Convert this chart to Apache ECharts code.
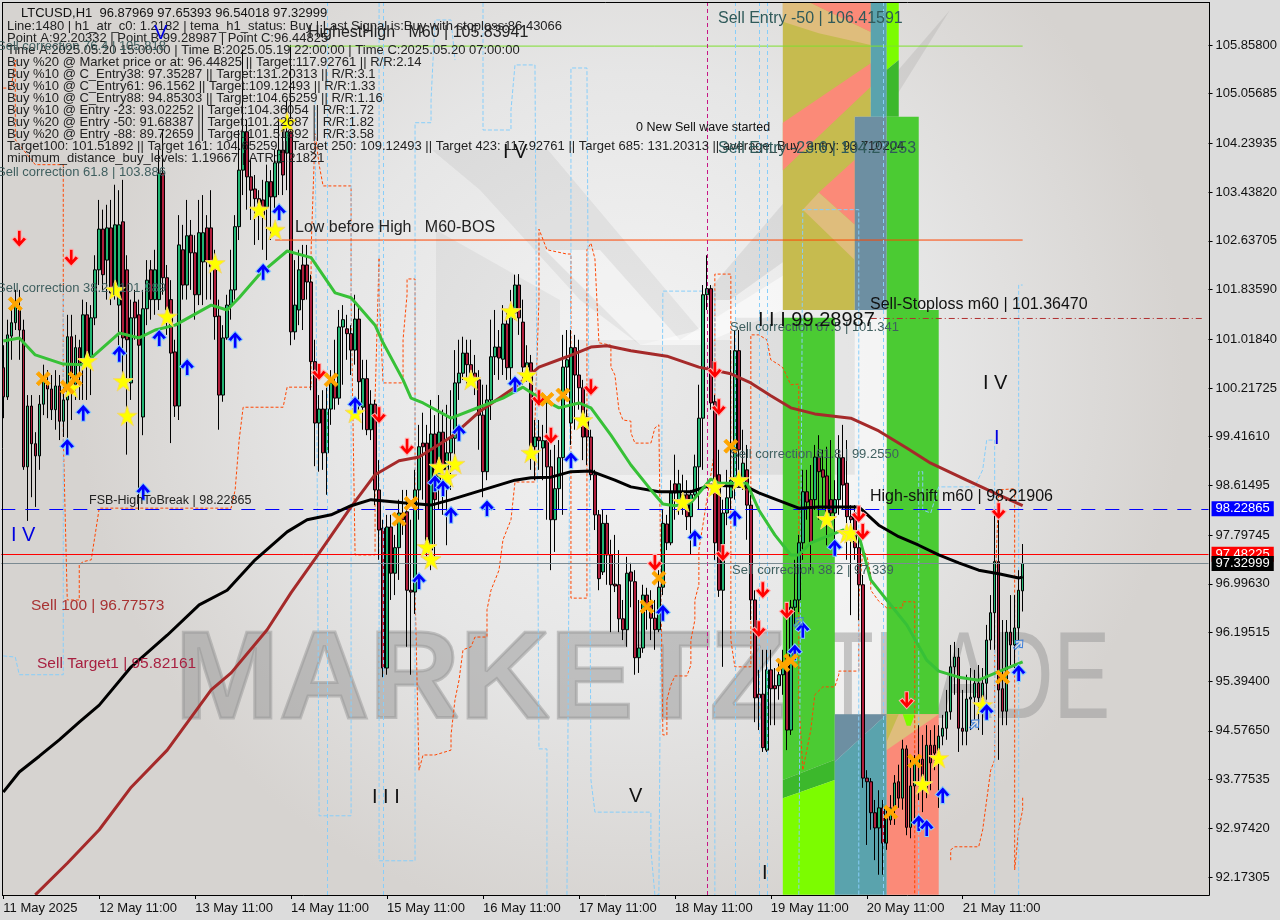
<!DOCTYPE html>
<html><head><meta charset="utf-8">
<style>html,body{margin:0;padding:0;background:#dcdcdc}#c{width:1280px;height:920px}</style>
<script src="https://cdn.jsdelivr.net/npm/echarts@6/dist/echarts.min.js"></script>
</head><body><div id="c"></div>
<script>
// [open, close, low, high] for each H1 bar
const candles = [
[100.55,100.07,99.72,100.92],[100.07,101.09,100.02,101.34],[101.07,101.29,100.68,101.58],[101.29,101.63,101.17,101.83],[101.50,101.17,100.68,101.83],[101.17,98.92,98.87,101.34],[98.92,99.92,98.03,100.10],[99.92,99.30,98.42,100.10],[99.30,99.10,98.26,99.49],[99.10,99.95,98.87,100.10],
[99.95,100.38,99.77,100.60],[100.30,100.20,99.72,100.51],[100.20,99.86,99.69,100.43],[99.86,100.25,99.53,100.51],[100.25,99.67,99.36,100.43],[99.67,100.02,99.41,100.27],[100.02,101.06,99.20,101.42],[101.06,100.18,99.69,101.42],[100.27,100.88,100.02,101.09],[100.88,100.60,100.02,101.01],
[100.63,101.42,100.02,101.67],[101.42,100.73,100.02,101.63],[100.73,101.37,100.10,101.58],[101.37,102.16,101.25,102.40],[102.16,102.83,101.91,103.31],[102.83,102.08,101.83,103.15],[102.32,102.85,101.67,103.23],[102.85,101.78,101.58,103.31],[101.91,102.90,101.67,103.56],[101.58,102.90,100.92,103.47],
[102.95,101.04,100.32,103.64],[102.16,101.01,99.12,102.40],[100.30,101.37,100.02,101.67],[101.63,101.37,101.01,101.83],[101.42,100.92,98.21,101.67],[99.74,101.52,99.44,101.83],[101.52,101.99,101.25,102.32],[102.16,101.67,101.34,102.32],[101.67,102.16,101.42,102.49],[101.67,103.75,101.50,104.13],
[103.75,102.03,101.75,104.46],[102.03,101.50,101.09,102.24],[101.67,100.79,99.31,101.99],[100.81,99.92,99.74,101.01],[99.92,102.57,99.69,103.06],[102.49,101.91,101.67,102.90],[101.91,102.72,101.67,103.31],[102.73,102.44,101.83,102.98],[102.44,101.75,101.34,102.73],[101.75,102.77,101.58,103.31],
[102.29,102.77,101.58,103.39],[102.85,102.29,101.67,103.06],[102.85,102.21,101.67,103.47],[102.21,101.39,101.01,102.49],[101.40,100.10,99.53,101.67],[100.10,101.04,99.99,101.25],[101.04,101.58,101.01,101.75],[101.58,101.83,101.34,102.49],[101.83,102.87,101.67,103.06],[102.87,103.80,102.65,104.46],
[103.80,104.43,103.39,105.78],[104.43,103.69,103.15,104.63],[103.69,103.47,102.98,103.97],[103.49,103.33,102.57,103.72],[103.33,103.15,102.65,103.47],[103.31,103.06,102.49,103.64],[103.19,103.61,102.32,103.89],[103.61,103.36,102.65,103.80],[103.36,103.92,103.15,104.13],[103.92,104.13,103.39,104.63],
[104.13,103.72,103.39,104.46],[104.08,104.43,103.47,104.95],[104.43,101.14,100.92,105.86],[101.14,101.58,101.01,102.32],[101.50,102.16,101.25,102.49],[102.24,101.67,101.17,102.57],[102.24,101.96,101.67,102.57],[101.96,100.65,100.18,102.08],[100.65,99.64,98.93,101.01],[99.64,99.87,98.84,100.10],
[99.87,99.15,98.87,100.18],[99.15,99.87,98.46,100.22],[99.87,100.30,99.61,100.51],[100.28,100.05,99.86,101.01],[100.05,101.22,99.94,101.50],[101.22,101.34,100.27,101.58],[101.19,101.11,100.68,101.42],[101.11,100.84,100.43,101.25],[100.84,101.35,100.60,101.75],[101.35,100.32,99.86,101.58],
[99.90,100.37,99.53,100.68],[100.37,99.53,99.44,100.68],[99.53,99.95,99.36,100.18],[99.95,98.54,98.29,100.02],[98.54,97.88,97.39,99.03],[97.91,95.61,95.46,98.05],[95.61,97.93,95.50,98.13],[97.93,97.17,96.73,98.13],[97.17,97.59,96.81,97.80],[97.59,98.16,97.06,98.38],
[98.16,98.05,97.80,98.54],[98.18,96.89,95.96,98.54],[96.89,96.86,95.50,98.05],[96.86,98.54,96.50,98.87],[98.54,99.25,98.05,99.61],[99.31,99.25,98.38,99.81],[99.31,97.55,97.39,99.61],[97.55,99.46,97.22,100.02],[99.46,98.38,97.39,99.77],[98.70,99.49,98.21,100.10],
[99.49,98.87,98.13,99.86],[98.87,99.15,97.63,99.94],[99.15,99.39,98.54,100.18],[99.39,100.30,98.95,100.84],[100.30,100.46,100.02,101.01],[100.46,100.79,100.35,101.06],[100.79,100.60,100.27,101.01],[100.60,100.46,100.27,101.01],[100.46,100.35,100.10,100.76],[100.35,99.77,99.20,100.51],
[99.77,98.84,98.42,100.27],[98.84,100.02,98.70,100.27],[100.02,100.73,99.69,101.34],[100.73,100.89,100.43,101.50],[100.89,100.71,100.35,101.17],[100.69,101.27,100.43,101.58],[101.27,100.55,100.35,101.50],[100.55,101.45,100.35,101.83],[101.45,101.91,101.34,102.08],[101.91,101.37,101.09,102.09],
[101.30,100.56,100.27,101.67],[100.56,100.63,100.32,100.92],[100.63,99.25,98.87,100.76],[99.25,99.41,98.70,99.69],[99.41,99.35,98.87,99.69],[99.23,99.35,98.70,99.61],[99.35,98.92,98.05,100.02],[98.92,98.05,97.22,99.20],[98.05,98.56,97.52,99.28],[98.56,99.07,98.21,99.36],
[99.07,100.56,98.13,101.09],[100.56,100.68,100.10,101.17],[99.64,100.88,99.28,101.17],[100.88,100.43,99.53,101.09],[100.43,100.22,99.86,101.01],[100.22,99.41,99.03,100.35],[99.74,99.41,98.95,99.86],[99.41,98.79,98.70,99.53],[98.79,98.13,97.88,98.87],[98.13,97.08,96.89,98.21],
[97.19,97.99,97.14,98.21],[97.99,97.47,96.98,98.13],[97.47,96.98,96.20,97.72],[96.99,96.96,96.86,97.80],[96.98,96.42,96.20,97.55],[96.42,96.24,96.07,96.73],[96.24,97.17,95.96,97.44],[97.19,97.04,96.61,97.34],[97.03,95.78,95.50,97.22],[95.78,95.94,95.53,96.73],
[95.94,96.81,95.86,96.98],[96.81,96.65,96.24,96.93],[96.65,96.43,96.07,96.89],[96.43,96.24,95.91,96.73],[96.24,96.94,96.20,97.22],[96.94,97.99,96.81,98.21],[97.98,97.67,97.55,98.13],[97.67,98.49,97.63,98.70],[98.64,98.49,98.05,99.12],[98.33,98.64,98.13,98.87],
[98.46,98.38,98.13,98.79],[98.46,98.10,97.88,98.70],[98.10,98.46,97.47,98.54],[98.46,98.92,98.38,99.12],[98.92,99.72,98.21,100.27],[99.72,101.75,98.87,101.91],[101.75,101.85,101.50,102.40],[101.85,99.97,99.86,101.91],[99.99,97.67,97.39,100.10],[98.79,96.89,96.78,99.20],
[96.89,98.16,95.63,98.38],[98.16,98.41,97.96,98.87],[98.41,98.70,98.21,100.84],[98.70,100.83,98.38,101.17],[100.83,99.20,98.87,101.17],[98.74,98.98,98.54,99.53],[98.87,98.29,97.72,99.28],[98.29,96.73,96.40,98.46],[96.73,95.12,94.72,96.89],[95.18,95.12,94.59,95.58],
[95.18,94.30,94.23,95.91],[94.26,95.58,94.23,95.91],[95.58,95.27,94.67,95.91],[95.32,95.27,94.67,95.61],[95.32,95.50,95.09,95.74],[95.50,95.69,95.17,95.91],[95.79,94.59,94.26,96.40],[94.59,96.61,94.51,96.73],[96.61,96.73,96.32,97.39],[96.73,97.67,96.53,97.80],
[97.67,98.51,97.39,98.87],[98.51,98.34,98.05,98.87],[98.38,97.67,97.22,98.95],[98.38,99.08,98.21,99.28],[99.08,98.84,98.05,99.44],[98.87,98.75,98.21,99.20],[98.77,98.16,97.63,99.25],[98.38,98.16,97.96,99.36],[98.16,98.38,97.72,98.70],[98.38,99.07,98.13,99.44],
[99.07,98.62,98.21,99.61],[98.65,98.10,97.39,99.36],[98.10,98.05,96.48,98.29],[98.16,97.59,97.39,98.29],[97.59,96.98,96.40,97.88],[96.98,93.80,93.64,97.14],[93.80,93.74,92.70,93.93],[93.74,93.23,92.95,93.80],[93.23,92.98,92.45,93.44],[92.98,93.31,92.21,93.60],
[93.31,92.73,92.21,93.44],[92.73,93.14,92.62,93.28],[93.11,93.31,93.03,93.52],[93.31,93.72,93.03,93.85],[93.74,93.47,93.31,94.02],[93.47,94.28,93.28,94.43],[94.28,92.99,92.86,94.34],[92.99,93.67,92.81,94.10],[93.67,94.05,93.14,94.18],[94.05,94.11,93.44,94.67],
[94.11,93.60,93.24,94.51],[93.60,94.34,93.47,94.67],[94.34,94.05,93.60,94.59],[94.34,94.21,93.93,94.67],[94.21,94.49,93.31,94.67],[94.49,94.62,94.34,94.84],[94.62,94.89,94.43,95.25],[94.89,95.63,94.76,95.99],[95.63,95.79,95.17,96.04],[95.79,94.62,94.23,95.94],
[94.62,94.57,94.34,95.25],[94.57,95.10,94.34,95.50],[95.10,95.13,94.59,95.61],[95.13,95.36,94.76,95.58],[95.36,95.12,94.59,95.66],[95.09,95.36,94.51,95.61],[95.36,96.07,95.09,96.32],[96.07,96.52,95.91,96.81],[96.52,97.36,95.91,98.13],[97.36,95.25,94.10,98.21],
[95.27,94.90,94.67,96.40],[94.90,96.20,94.67,96.40],[96.20,95.99,95.66,96.81],[95.99,96.27,95.61,96.81],[96.27,96.89,96.07,97.22],[96.88,97.33,96.54,97.65]
];
const dayLabels = ['11 May 2025','12 May 11:00','13 May 11:00','14 May 11:00','15 May 11:00','16 May 11:00','17 May 11:00','18 May 11:00','19 May 11:00','20 May 11:00','21 May 11:00'];
const priceTicks = [105.858,105.05685,104.23935,103.4382,102.63705,101.8359,101.0184,100.21725,99.4161,98.61495,97.79745,96.9963,96.19515,95.394,94.5765,93.77535,92.9742,92.17305];

const blackMA = [[0,93.57],[4,93.90],[9,94.16],[14,94.43],[19,94.72],[24,95.00],[32,95.63],[41,96.15],[49,96.65],[56,96.89],[63,97.39],[71,97.85],[76,98.05],[82,98.13],[87,98.28],[92,98.38],[100,98.33],[107,98.29],[112,98.38],[128,98.70],[132,98.74],[137,98.75],[142,98.84],[147,98.85],[153,98.70],[157,98.59],[164,98.51],[172,98.51],[177,98.62],[186,98.59],[189,98.49],[197,98.29],[199,98.24],[204,98.26],[214,98.26],[219,97.96],[224,97.77],[229,97.63],[234,97.47],[239,97.34],[244,97.22],[249,97.16],[254,97.09],[255,97.11]];
const brownMA = [[8,91.88],[16,92.40],[24,92.95],[32,93.65],[41,94.26],[52,95.25],[57,95.53],[66,96.24],[72,96.85],[79,97.50],[87,98.26],[93,98.79],[99,99.02],[104,99.08],[112,99.41],[119,99.82],[128,100.23],[134,100.56],[141,100.73],[147,100.89],[151,100.91],[157,100.83],[166,100.74],[174,100.56],[182,100.45],[187,100.30],[192,100.09],[197,99.89],[203,99.79],[212,99.72],[219,99.51],[226,99.23],[232,98.98],[241,98.70],[249,98.46],[255,98.28]];
const greenMA = [[0,100.99],[4,101.04],[8,100.76],[15,100.61],[20,100.60],[22,100.71],[29,101.12],[34,101.04],[38,101.17],[43,101.25],[52,101.58],[56,101.50],[59,101.70],[64,102.08],[71,102.47],[77,102.36],[83,101.78],[87,101.70],[93,101.25],[95,100.96],[100,100.35],[102,100.05],[105,99.97],[112,99.72],[119,99.90],[125,100.05],[130,100.23],[133,100.10],[139,99.89],[144,99.97],[147,99.89],[152,99.44],[157,98.95],[162,98.54],[165,98.31],[168,98.28],[172,98.33],[177,98.72],[179,98.65],[186,98.65],[189,98.21],[193,97.80],[197,97.47],[199,97.47],[202,97.67],[207,97.80],[210,97.88],[214,97.80],[217,97.06],[221,96.73],[226,96.32],[231,95.74],[234,95.56],[239,95.46],[244,95.41],[249,95.55],[255,95.71]];

const orangeStops = [[0,105.15],[2,105.15],[3,105.61],[3,104.30],[8,103.89],[15,103.89],[15,100.02],[15,99.41],[16,96.73],[19,96.73],[19,97.31],[20,97.36],[22,97.39],[24,98.24],[57,98.24],[58,98.54],[59,99.36],[60,99.90],[70,99.90],[71,100.23],[77,100.23],[77,102.49],[78,104.41],[79,103.89],[80,103.54],[87,103.54],[87,101.67],[88,97.47],[93,97.47],[93,100.02],[94,102.36],[94,101.75],[95,100.30],[100,100.30],[100,101.01],[101,101.75],[101,102.01],[103,102.01],[103,96.89],[104,93.93],[105,94.18],[108,94.18],[112,94.26],[112,94.51],[113,95.09],[114,95.41],[115,95.91],[117,95.96],[118,96.12],[121,96.12],[121,96.57],[122,96.89],[124,97.22],[125,97.72],[127,98.05],[128,98.67],[133,98.67],[133,99.69],[134,101.67],[134,102.83],[136,102.49],[141,102.42],[142,102.42],[142,96.76],[146,96.76],[146,102.49],[147,102.60],[148,102.34],[149,100.96],[152,100.92],[152,100.56],[153,100.43],[154,99.86],[155,99.69],[157,99.67],[157,99.48],[158,99.31],[162,99.31],[163,99.56],[164,99.61],[165,94.51],[166,94.51],[166,95.09],[167,95.33],[168,95.48],[171,95.48],[172,95.66],[172,96.07],[173,96.40],[173,96.73],[174,96.98],[174,97.55],[175,97.96],[176,98.38],[178,99.20],[178,102.09],[182,102.09],[182,96.07],[183,95.63],[187,95.63],[187,101.09],[189,101.09],[191,101.01],[192,100.68],[194,100.60],[195,100.55],[197,100.27],[199,100.28],[199,95.09],[200,93.93],[202,94.59],[203,95.17],[205,95.30],[208,95.30],[209,95.50],[209,95.56],[214,95.56],[214,96.73],[215,97.55],[216,97.47],[217,97.14],[217,96.89],[219,96.71],[221,96.60],[225,96.60],[225,96.70],[228,96.70],[228,91.88],[229,null],[237,92.45],[237,92.62],[238,92.67],[244,92.67],[245,92.95],[246,93.44],[247,93.93],[248,94.10],[248,96.73],[249,98.54],[253,98.56],[253,92.29],[254,92.95],[255,93.28],[255,93.51]];
const blueStops = [[0,95.81],[3,95.79],[4,95.50],[15,95.50],[15,101.83],[16,null],[78,104.95],[79,93.18],[87,93.18],[87,104.63],[88,104.68],[89,null],[94,106.55],[94,92.44],[103,92.44],[103,104.58],[107,104.58],[107,104.95],[108,106.27],[112,106.27],[113,105.61],[114,null],[120,106.55],[120,104.46],[127,104.46],[127,104.79],[128,105.53],[133,105.53],[134,94.28],[136,94.28],[136,93.44],[136,91.88],[137,null],[141,91.88],[142,102.49],[142,105.48],[146,105.48],[147,94.10],[147,93.77],[148,93.24],[162,93.24],[162,92.62],[163,91.88],[164,91.88],[165,101.81],[178,101.81],[178,91.88],[179,null],[199,91.88],[200,103.15],[214,103.15],[214,91.88],[215,null],[229,91.88],[229,98.84],[230,98.84],[230,98.21],[232,98.16],[234,98.59],[243,98.59],[245,98.87],[246,99.36],[248,99.36],[248,91.88],[249,null],[254,91.88],[254,101.91],[255,101.91]];
const blueVerticals = [81,95,183,189,191,220];
const crimsonVertical = [176];

const starPoints = [[21,100.66],[17,100.22],[30,100.33],[31,99.76],[41,101.39],[28,101.83],[53,102.27],[64,103.15],[68,102.82],[71,104.59],[88,99.81],[127,101.48],[131,100.43],[117,100.35],[113,98.97],[109,98.92],[111,98.75],[106,97.60],[107,97.40],[132,99.15],[145,99.69],[170,98.34],[178,98.59],[184,98.70],[206,98.06],[211,97.83],[212,97.83],[245,95.00],[234,94.13],[230,93.70]];
const buyArrows = [[16,99.25],[20,99.81],[29,100.78],[39,101.04],[46,100.56],[58,101.01],[35,98.51],[88,99.94],[69,103.11],[65,102.13],[104,97.04],[165,96.52],[128,100.28],[142,99.03],[121,98.24],[112,98.13],[108,98.65],[110,98.57],[114,99.48],[173,97.75],[183,98.08],[208,97.59],[200,96.24],[198,95.87],[235,93.52],[229,93.06],[231,92.98],[246,94.89],[254,95.53]];
const sellArrows = [[4,102.67],[17,102.36],[79,100.48],[94,99.77],[101,99.25],[134,100.05],[137,99.43],[147,100.23],[178,100.51],[179,99.90],[163,97.34],[180,97.50],[190,96.89],[214,98.14],[215,97.85],[249,98.19],[196,96.55],[189,96.25],[226,95.08]];
const crossPoints = [[3,101.60],[10,100.37],[18,100.37],[16,100.23],[82,100.35],[99,98.06],[102,98.32],[136,100.03],[140,100.10],[164,97.09],[161,96.62],[182,99.26],[195,95.66],[197,95.73],[222,93.24],[228,94.08],[250,95.46]];
const hollowBuy = [[243,94.69],[254,96.00],[199,96.37]];

const zonePolygons = [
 ['haze',[[183,101.37],[213,101.37],[213,98.79],[183,98.79]]],
 ['olive',[[195,106.55],[217,106.55],[217,104.68],[213,104.68],[213,101.50],[195,101.50]]],
 ['tan',[[195,106.55],[202,106.55],[217,106.07],[217,105.86],[204,106.05],[195,106.24]]],
 ['salmon',[[202,106.55],[217,106.55],[217,106.07]]],
 ['salmon',[[195,104.58],[217,105.56],[217,105.17],[195,103.80]]],
 ['salmon',[[204,103.43],[213,103.97],[213,102.90]]],
 ['tan',[[200,103.15],[204,103.43],[213,102.90],[213,102.32]]],
 ['slate',[[213,104.68],[221,104.68],[221,101.50],[213,101.50]]],
 ['teal',[[217,106.55],[221,106.55],[221,104.68],[217,104.68]]],
 ['lime',[[221,106.55],[224,106.55],[224,105.61],[221,105.45]]],
 ['deep',[[221,105.45],[224,105.61],[224,104.68],[221,104.68]]],
 ['green',[[221,104.68],[229,104.68],[229,101.50],[234,101.50],[234,94.85],[221,94.85]]],
 ['green',[[195,101.37],[208,101.37],[208,94.10],[195,93.77]]],
 ['deep',[[195,93.77],[208,94.10],[208,93.77],[195,93.47]]],
 ['lime',[[195,93.47],[208,93.77],[208,91.88],[195,91.88]]],
 ['slate',[[208,94.85],[221,94.85],[208,94.07]]],
 ['teal',[[208,94.07],[221,94.85],[221,91.88],[208,91.88]]],
 ['salmon',[[221,94.85],[234,94.85],[234,91.88],[221,91.88]]],
 ['tan',[[221,94.85],[234,94.85],[221,94.26]]],
 ['olive',[[221,94.85],[224,94.85],[221,94.4]]],
 ['lime',[[225,94.85],[228,94.85],[227,94.66],[226,94.66]]]
];
const infoTitle = 'LTCUSD,H1  96.87969 97.65393 96.54018 97.32999';
const infoLines = [
'Line:1480 | h1_atr_c0: 1.2182 | tema_h1_status: Buy | Last Signal is:Buy with stoploss:86.43066',
'Point A:92.20332 | Point B:99.28987 | Point C:96.44825',
'Time A:2025.05.20 15:00:00 | Time B:2025.05.19 22:00:00 | Time C:2025.05.20 07:00:00',
'Buy %20 @ Market price or at: 96.44825 || Target:117.92761 || R/R:2.14',
'Buy %10 @ C_Entry38: 97.35287 || Target:131.20313 || R/R:3.1',
'Buy %10 @ C_Entry61: 96.1562 || Target:109.12493 || R/R:1.33',
'Buy %10 @ C_Entry88: 94.85303 || Target:104.65259 || R/R:1.16',
'Buy %10 @ Entry -23: 93.02252 || Target:104.36054 || R/R:1.72',
'Buy %20 @ Entry -50: 91.68387 || Target:101.22687 || R/R:1.82',
'Buy %20 @ Entry -88: 89.72659 || Target:101.51892 || R/R:3.58',
'Target100: 101.51892 || Target 161: 104.65259 || Target 250: 109.12493 || Target 423: 117.92761 || Target 685: 131.20313 || average_Buy_entry: 93.710204',
'minimum_distance_buy_levels: 1.19667 | ATR:1.21821'];
const chartNotes = [
 ['Sell correction 76.4 | 105.818',-3,46,13,'#3f5f5f'],
 ['Sell correction 61.8 | 103.886',-3,172,13,'#3f5f5f'],
 ['Sell correction 38.2 | 101.989',-3,288,13,'#3f5f5f'],
 ['HighestHigh   M60 | 105.83941',308,33,16,'#222'],
 ['Low before High   M60-BOS',295,228,16,'#222'],
 ['Sell Entry -50 | 106.41591',718,19,16,'#2f5a5a'],
 ['Sell Entry -23.6 | 104.27253',718,149,16,'#2f5a5a'],
 ['0 New Sell wave started',636,128,12.5,'#111'],
 ['Sell correction 67.5 | 101.341',730,327,13,'#3f5f5f'],
 ['Sell correction 61.8 | 99.2550',730,454,13,'#3f5f5f'],
 ['Sell correction 38.2 | 97.339',732,570,13,'#3f5f5f'],
 ['FSB-HighToBreak | 98.22865',89,501,12.5,'#222'],
 ['Sell 100 | 96.77573',31,606,15.5,'#a83232'],
 ['Sell Target1 | 95.82161',37,664,15.5,'#a82040'],
 ['I I I 99.28987',758,320,20,'#111'],
 ['Sell-Stoploss m60 | 101.36470',870,305,16,'#111'],
 ['High-shift m60 | 98.21906',870,497,16,'#111'],
 ['V',154,33,20,'#0000e0'],
 ['I V',503,152,20,'#111'],
 ['I V',11,535,20,'#0000e0'],
 ['I I I',372,797,20,'#111'],
 ['V',629,796,20,'#111'],
 ['I',762,873,20,'#111'],
 ['I V',983,383,20,'#111'],
 ['I',994,438,20,'#0000e0']
];
const lastPrice = 97.32999, redLevel = 97.48225, fsbLevel = 98.22865;
const orangeLevel = [[68,102.65],[255,102.65]];
const highLevel = [[71,105.84],[255,105.84]];
const stopLevel = [[217,101.36],[300,101.36]];

const categories = Array.from({length:302},(_,i)=> (i%24===0 && dayLabels[i/24]) ? dayLabels[i/24] : '');
const zoneFill = {haze:'rgba(120,120,120,0.13)',olive:'#c6bb4f',tan:'#dfbd7c',salmon:'#fb8a78',slate:'#6d8fa2',teal:'#5aa3ad',lime:'#7cfc00',deep:'#3cb82c',green:'#4bcb33'};

const pathStar='path://M50 0 L62 35 L100 36 L69 58 L81 95 L50 73 L19 95 L31 58 L0 36 L38 35 Z';
const pathArrow='path://M50 0 L100 48 L78 62 L62 44 L62 100 L38 100 L38 44 L22 62 L0 48 Z';
const pathCross='path://M18 0 L50 34 L82 0 L100 18 L66 50 L100 82 L82 100 L50 66 L18 100 L0 82 L34 50 L0 18 Z';

function line(data,color,width,type,z){return {type:'line',data,showSymbol:false,symbol:'none',silent:true,z:z||4,animation:false,connectNulls:false,lineStyle:{color,width,type:type||'solid'},clip:true};}
function marks(data,symbol,size,color,border,rotate,z){return {type:'scatter',data,symbol,symbolSize:size,symbolRotate:rotate||0,silent:true,z:z||7,animation:false,itemStyle:{color,borderColor:border,borderWidth:1,opacity:1}};}

const F='"Liberation Sans",Arial,sans-serif';
const backdrop=[
 {type:'rect',z:-20,shape:{x:3,y:3,width:1206,height:892},style:{fill:new echarts.graphic.RadialGradient(0.52,0.42,0.62,[{offset:0,color:'#f4f4f4'},{offset:0.55,color:'#e6e6e6'},{offset:1,color:'#d6d3d0'}])}},
 {type:'polygon',z:-19,shape:{points:[[436,230],[560,300],[560,475],[436,475]]},style:{fill:'rgba(0,0,0,0.045)'}},
 {type:'polygon',z:-19,shape:{points:[[580,340],[735,340],[735,475],[580,475]]},style:{fill:'rgba(0,0,0,0.045)'}},
 {type:'polygon',z:-19,shape:{points:[[432,150],[548,150],[700,330],[640,345],[580,300],[480,190]]},style:{fill:'rgba(0,0,0,0.05)'}},
 {type:'polygon',z:-19,shape:{points:[[700,300],[950,10],[800,250],[730,300]]},style:{fill:'rgba(0,0,0,0.07)'}},
 {type:'polygon',z:-18,shape:{points:[[545,250],[600,250],[680,340],[800,265],[830,290],[700,345],[640,345]]},style:{fill:'rgba(255,255,255,0.55)'}},
 {type:'rect',z:-18,shape:{x:835,y:318,width:52,height:396},style:{fill:'rgba(255,255,255,0.5)'}},
 {type:'text',z:-15,style:{text:'MARKETZI',x:175,y:684,font:'bold 125px '+F,fill:'rgba(150,150,150,0.5)',stroke:'rgba(150,150,150,0.5)',lineWidth:3,verticalAlign:'middle'}},
 {type:'text',z:-15,x:822,y:684,scaleX:0.68,style:{text:'TRADE',x:0,y:0,font:'125px '+F,fill:'rgba(150,150,150,0.5)',verticalAlign:'middle'}}
];
const texts=[
 {type:'text',z:60,style:{text:infoTitle,x:21,y:13,font:'13px '+F,fill:'#111',verticalAlign:'middle'}},
 ...infoLines.map((t,k)=>({type:'text',z:60,style:{text:t,x:7,y:26+k*12,font:'13px '+F,fill:'#222',verticalAlign:'middle'}})),
 ...chartNotes.map(n=>({type:'text',z:60,style:{text:n[0],x:n[1],y:n[2],font:n[3]+'px '+F,fill:n[4],verticalAlign:'middle'}}))
];
const frame=[[2,2.5,1209.5,2.5],[2.5,2,2.5,895.5],[1209.5,2,1209.5,895.5],[2,895.5,1209.5,895.5]].map(s=>({type:'line',z:50,shape:{x1:s[0],y1:s[1],x2:s[2],y2:s[3]},style:{stroke:'#000',lineWidth:1}}));

const chart=echarts.init(document.getElementById('c'),null,{renderer:'canvas'});
chart.setOption({
 animation:false,
 backgroundColor:'#dcdcdc',
 textStyle:{fontFamily:F},
 grid:{left:1.3,top:3,width:1207.7,height:892,containLabel:false},
 graphic:{elements:[...backdrop,...frame,...texts]},
 xAxis:{type:'category',data:categories,boundaryGap:true,
  axisLine:{show:false},
  axisTick:{show:true,length:4,alignWithLabel:true,interval:(i)=>i%24===0&&i<=240,lineStyle:{color:'#000'}},
  axisLabel:{show:true,interval:(i)=>i%24===0&&i<=240,align:'left',margin:7,fontSize:13,color:'#111',fontFamily:F,hideOverlap:false,showMinLabel:true},
  splitLine:{show:false}},
 yAxis:{type:'value',position:'right',min:91.877,max:106.549,scale:true,
  axisLine:{show:false},
  axisTick:{show:true,length:4,lineStyle:{color:'#000'},customValues:priceTicks},
  axisLabel:{show:true,margin:7,fontSize:13,color:'#111',fontFamily:F,customValues:priceTicks,formatter:v=>v.toFixed(5)},
  splitLine:{show:false}},
 series:[
  {type:'custom',z:1,silent:true,animation:false,clip:true,data:zonePolygons.map((_,k)=>[k,100]),encode:{x:0,y:1},
   renderItem:(p,api)=>{const z=zonePolygons[p.dataIndex];return {type:'polygon',shape:{points:z[1].map(c=>api.coord(c))},style:{fill:zoneFill[z[0]]}};}},
  line(orangeStops,'#ff4500',1,[3,2],2),
  line(blueStops,'#87cefa',1,[4,2],2),
  {type:'line',data:[],silent:true,z:2,animation:false,symbol:'none',
   markLine:{silent:true,symbol:'none',animation:false,label:{show:false},
    data:[...blueVerticals.map(v=>({xAxis:v,lineStyle:{color:'#87cefa',type:[4,3],width:1}})),
          ...crimsonVertical.map(v=>({xAxis:v,lineStyle:{color:'#c71585',type:[4,3],width:1}}))]}},
  {type:'candlestick',z:3,silent:true,animation:false,barWidth:3,data:candles,
   itemStyle:{color:'#22b573',color0:'#b01e3c',borderColor:'#000',borderColor0:'#000',borderWidth:1}},
  line(orangeLevel,'#ff4500',1,'solid',4),
  line(highLevel,'#7fdf30',1,'solid',4),
  line(stopLevel,'#b03030',1,[6,3,1,3],4),
  line(brownMA,'#a52a2a',3,'solid',5),
  line(blackMA,'#000',3,'solid',5),
  line(greenMA,'#37c137',3,'solid',5),
  {type:'line',data:[],silent:true,z:6,animation:false,symbol:'none',
   markLine:{silent:true,symbol:'none',animation:false,
    data:[
     {yAxis:fsbLevel,lineStyle:{color:'#0000ff',type:[14,10],width:1.2},label:{show:true,position:'end',distance:3,formatter:fsbLevel.toFixed(5),color:'#fff',backgroundColor:'#0000ff',padding:[1,4,1,4],fontSize:13,fontFamily:F}},
     {yAxis:redLevel,lineStyle:{color:'#ff0000',type:'solid',width:1},label:{show:true,position:'end',distance:3,formatter:redLevel.toFixed(5),color:'#fff',backgroundColor:'#ff0000',padding:[1,4,1,4],fontSize:13,fontFamily:F}},
     {yAxis:lastPrice,lineStyle:{color:'#7b8a92',type:'solid',width:1},label:{show:true,position:'end',distance:3,formatter:lastPrice.toFixed(5),color:'#fff',backgroundColor:'#000',padding:[1,4,1,4],fontSize:13,fontFamily:F}}
    ]}},
  marks(starPoints,pathStar,20,'#ffff00','#f5d76e'),
  marks(buyArrows,pathArrow,[15,17],'#0000ff','#87cefa'),
  marks(sellArrows,pathArrow,[15,17],'#ff0000','#ffb0b0',180),
  marks(crossPoints,pathCross,14,'#ffa500','#ffa500'),
  marks(hollowBuy,pathArrow,[10,12],'rgba(255,255,255,0.2)','#3b7dd8',-45)
 ]
});
</script></body></html>
